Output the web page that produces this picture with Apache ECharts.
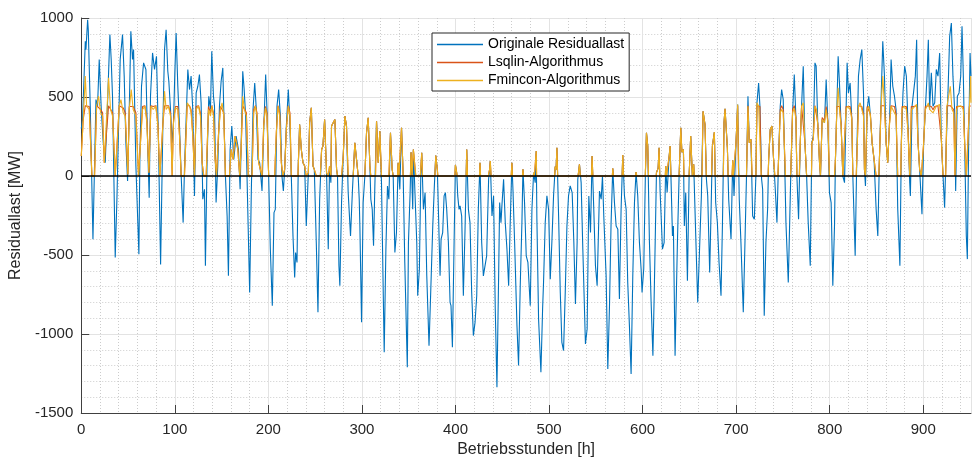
<!DOCTYPE html>
<html>
<head>
<meta charset="utf-8">
<script src="https://cdn.jsdelivr.net/npm/echarts@6/dist/echarts.min.js"></script>
<style>html,body{margin:0;padding:0;background:#fff;}#chart{width:972px;height:463px;}</style>
</head>
<body>
<div id="chart"></div>
<script>
// Data: [Betriebsstunde, MW]
const seriesNames = ['Originale Residuallast', 'Lsqlin-Algorithmus', 'Fmincon-Algorithmus'];
const xTicks = [0, 100, 200, 300, 400, 500, 600, 700, 800, 900];
const yTicks = [-1500, -1000, -500, 0, 500, 1000];

const originalResidualLoad = [
[0,300],[1.4,358],[4.3,853],[5.0,800],[6.8,989],[7.5,926],[9.6,442],[12.5,-400],[15.7,484],[17.4,442],[19.2,737],[21.4,421],[23.5,210],[25.6,84],[28.1,463],[30.6,895],[32.0,737],[33.4,505],[36.3,-516],[38.1,-147],[39.5,210],[41.6,737],[44.1,895],[45.9,632],[47.7,210],[49.5,-32],[51.3,421],[53.0,916],[54.8,737],[55.9,800],[58.4,63],[61.6,-495],[62.7,147],[64.4,568],[66.6,716],[69.1,674],[70.9,210],[72.6,-137],[74.0,505],[76.2,779],[78.3,674],[80.4,758],[82.2,316],[84.8,-560],
[87.2,316],[89.0,800],[90.7,926],[92.5,663],[93.6,600],[95.4,421],[97.1,210],[98.6,337],[100.0,653],[101.4,905],[103.2,568],[105.0,316],[106.8,0],[108.9,-295],[110.3,42],[113.9,674],[115.7,547],[117.4,632],[119.2,421],[121.0,-126],[122.8,526],[124.6,568],[126.3,642],[128.1,463],[129.9,-147],[131.7,-84],[132.7,-568],[134.5,105],[136.3,505],[138.1,421],[139.5,789],[141.3,505],[142.4,442],[144.1,-168],[145.9,63],[147.7,442],[149.5,600],[151.3,684],[152.3,421],[154.1,0],[155.9,-253],[157.3,-632],[159.1,168],[160.9,316],[163.0,105],[165.5,253],[168.0,168],[169.8,-84],[170.8,168],[172.6,663],[174.0,558],
[175.7,379],[180.0,-737],[181.8,-84],[183.6,421],[185.4,589],[187.1,421],[188.9,105],[190.7,84],[193.2,-95],[195.0,295],[197.1,642],[198.5,421],[200.3,0],[202.1,-463],[204.2,-821],[206.0,-232],[207.4,-211],[209.2,442],[211.0,547],[212.8,379],[214.5,0],[216.0,-95],[217.4,42],[219.2,316],[221.3,547],[222.7,379],[224.5,0],[226.3,-379],[228.1,-642],[229.1,-484],[230.6,-547],[232.0,84],[233.4,326],[235.2,168],[237.0,84],[238.8,63],[240.5,-316],[242.7,21],[244.1,337],[245.9,432],[247.7,63],[249.1,42],[251.2,-421],[253.0,-863],[254.8,-147],[256.9,168],[258.3,189],[260.1,358],
[262.2,21],[264.0,-463],[265.4,63],[266.8,-42],[267.5,316],[269.3,337],[271.1,358],[272.9,42],[273.9,0],[275.4,-568],[276.4,-695],[278.2,-168],[280.0,126],[281.8,379],[283.5,316],[285.3,-105],[287.8,-379],[289.9,-84],[292.4,210],[294.2,105],[296.0,0],[297.1,-147],[297.8,-316],[299.6,-926],[301.3,-168],[303.1,0],[304.9,274],[306.7,368],[308.5,63],[309.5,-147],[311.0,-211],[312.4,-442],[313.8,-63],[315.6,347],[317.4,84],[319.1,284],[320.9,-42],[323.8,-1116],[325.6,-463],[327.3,-63],[328.8,-147],[330.5,274],[332.3,42],[333.4,0],[335.2,-484],[336.9,-358],[338.7,84],[340.5,-84],[342.3,305],[344.1,0],[345.8,-547],[348.5,-1210],
[349.7,-421],[351.5,-105],[352.5,150],[354.3,-211],[355.0,168],[356.8,179],[358.6,-421],[359.6,-758],[361.4,-589],[362.9,0],[363.9,147],[365.7,-211],[367.5,-105],[369.3,-632],[371.7,-1074],[373.5,-737],[375.7,-316],[377.4,-63],[378.9,130],[380.6,40],[381.7,-211],[383.5,-632],[384.6,-400],[386.3,-358],[387.8,-126],[389.2,-105],[390.6,-211],[392.4,-421],[394.2,-800],[395.2,-821],[396.7,-1084],[398.5,-421],[399.9,70],[401.3,20],[402.4,-126],[403.8,-211],[404.9,-189],[406.6,-253],[408.4,-758],[410.2,-337],[412.0,168],[413.8,-211],[415.5,-295],[417.3,-737],[419.1,-1010],[420.9,-926],[422.7,-758],[424.4,-211],[426.2,84],[428.0,-421],[429.8,-632],[433.3,-505],[435.4,-20],[436.4,40],[437.2,95],
[439.0,-253],[440.7,-126],[442.5,-842],[444.3,-1337],[446.1,-632],[447.2,-168],[448.6,-295],[449.6,-189],[451.4,-21],[453.2,-295],[455.0,-463],[456.8,-695],[458.5,-295],[460.3,84],[461.4,-84],[463.2,-421],[465.7,-947],[467.4,-1200],[469.2,-695],[471.0,-295],[472.1,42],[473.8,-168],[475.6,-505],[477.4,-547],[479.9,-821],[481.7,-211],[483.5,21],[485.2,-42],[486.3,158],[487.0,-274],[488.8,-905],[491.3,-1242],[493.1,-842],[494.1,-674],[495.9,-295],[497.7,-126],[499.5,-211],[501.3,-653],[503.0,-421],[504.8,-126],[506.6,60],[507.5,40],[508.4,179],[510.2,-253],[512.0,-737],[513.7,-1053],[515.5,-1105],[517.3,-737],[519.1,-316],[520.8,-126],[522.6,-63],
[524.7,-105],[526.5,-421],[528.2,-810],[530.0,-421],[530.7,-21],[532.5,74],[534.3,-42],[536.1,-463],[538.9,-1063],[540.7,-968],[542.5,-126],[544.3,-358],[546.0,126],[547.8,-211],[549.6,-568],[551.4,-695],[553.9,-95],[555.7,-147],[557.1,0],[558.5,-253],[561.0,-632],[562.8,-1221],[564.6,-821],[566.3,-295],[568.1,48],[569.9,-168],[571.7,-316],[573.5,-337],[575.2,-779],[577.0,-211],[578.8,133],[580.6,-126],[582.4,-211],[584.1,-674],[585.9,-947],[587.7,-1253],[589.5,-632],[591.3,-168],[593.0,25],[594.8,-126],[596.6,-421],[598.4,-589],[599.4,-737],[601.2,-589],[603.0,21],[604.1,274],[605.5,190],[607.3,-421],[609.1,-800],[611.0,-1137],
[612.3,-779],[613.3,-463],[614.8,21],[616.6,50],[617.6,179],[618.7,-100],[619.8,-253],[621.2,-463],[623.0,-421],[624.7,63],[626.2,-105],[628.3,120],[629.4,189],[630.5,-50],[631.9,-379],[632.9,-316],[634.7,-1137],[637.2,-421],[639.0,0],[640.8,305],[642.0,150],[643.6,168],[644.6,-316],[646.1,-105],[647.9,-663],[649.7,0],[651.4,253],[653.2,0],[654.6,74],[656.8,-379],[658.9,-800],[661.1,-421],[662.8,-126],[664.6,410],[666.7,326],[668.2,-21],[669.6,-126],[671.7,-611],[673.2,-211],[674.6,189],[676.7,278],[678.1,-168],[679.9,-295],[681.7,-547],[683.8,-758],[685.3,-316],[687.0,337],[688.1,425],[690.6,179],[692.0,-147],[694.5,-400],[696.3,99],[697.7,-126],
[699.8,210],[701.6,453],[703.3,-147],[705.1,-421],[707.6,-863],[709.4,-421],[711.2,42],[712.6,505],[714.0,210],[715.8,232],[717.6,-253],[719.4,-274],[721.1,0],[722.2,463],[724.0,589],[725.4,442],[727.2,-21],[728.3,-84],[730.0,-884],[731.8,-421],[733.6,-211],[734.7,105],[736.4,295],[738.2,316],[740.0,105],[741.8,-84],[743.6,-295],[745.3,105],[747.1,442],[748.6,547],[750.3,484],[751.4,210],[753.2,-295],[755.7,-674],[757.1,-316],[758.5,42],[760.3,400],[762.1,642],[763.9,358],[764.9,0],[766.7,-274],[768.5,210],[769.9,442],[771.7,695],[773.5,210],[775.3,0],[777.0,-295],[779.2,-568],[780.9,210],[782.4,253],[784.2,716],[785.5,695],
[787.3,316],[789.1,84],[790.1,0],[791.9,358],[794.4,337],[796.2,610],[798.0,337],[799.7,-105],[801.5,-168],[803.3,-695],[805.1,-316],[806.1,105],[807.6,421],[809.0,758],[810.4,589],[812.2,316],[814.0,0],[815.8,-42],[817.5,421],[818.6,716],[820.0,526],[821.8,589],[823.6,358],[824.7,0],[827.2,-505],[829.0,147],[830.7,632],[832.5,737],[834.3,800],[836.1,526],[837.1,42],[838.2,-63],[840.0,421],[841.7,505],[843.5,379],[845.3,210],[847.4,105],[849.6,-211],[851.4,-379],[853.1,105],[854.9,484],[856.7,853],[858.5,632],[860.3,210],[862.0,84],[863.8,316],[865.6,737],[867.4,568],[869.2,505],[870.9,421],[872.7,-211],[875.0,-568],
[876.6,210],[878.3,526],[880.1,695],[881.9,632],[883.7,316],[885.5,-42],[886.2,-126],[888.0,442],[889.7,442],[891.5,632],[892.9,863],[894.4,210],[896.1,42],[898.6,-242],[900.4,210],[902.2,421],[904.0,632],[905.4,863],[906.8,421],[908.6,653],[910.4,442],[912.2,463],[913.9,674],[915.7,632],[917.5,779],[919.3,232],[921.1,0],[922.8,-200],[924.6,210],[926.4,526],[928.2,884],[930.0,968],[931.7,632],[933.5,421],[934.6,-95],[936.4,505],[938.2,526],[940.0,632],[941.4,947],[942.8,632],[944.2,210],[946.0,-379],[947.1,-526],[948.5,210],[950.0,779],[951.0,632]
];

const fminconLoad = [
[0,126],[2.1,358],[4.3,632],[5.7,442],[8.5,421],[11.4,0],[14.2,0],[16.4,442],[18.5,505],[20.7,400],[22.8,379],[24.6,84],[26.3,74],[29.2,621],[31.3,421],[33.5,379],[36.3,0],[38.4,0],[40.6,442],[42.4,484],[44.9,400],[47.0,379],[48.8,147],[49.8,10],[51.3,421],[53.4,547],[55.5,421],[58.4,379],[61.2,0],[63.0,0],[65.5,421],[68.0,442],[70.1,337],[72.3,21],[74.4,442],[76.9,421],[79.7,442],[81.9,316],[84.0,0],
[85.4,0],[87.2,316],[89.0,537],[90.7,421],[93.2,442],[95.4,379],[97.1,0],[98.6,337],[100.7,432],[103.2,421],[105.0,253],[106.8,0],[110.3,0],[113.2,463],[115.7,442],[117.4,400],[119.2,253],[121.0,0],[122.8,421],[125.3,442],[127.4,379],[129.2,84],[131.0,0],[133.5,0],[136.0,421],[138.1,379],[139.5,442],[141.3,379],[143.1,105],[144.5,0],[146.6,253],[148.8,421],[150.5,463],[152.3,379],[154.1,0],[158.4,0],[160.2,168],[162.3,105],[164.4,253],[167.3,168],[169.4,0],[170.8,168],[172.6,505],[174.4,421],
[176.5,379],[178.6,0],[182.5,0],[184.3,400],[186.1,442],[187.9,379],[189.6,84],[191.4,84],[193.2,0],[195.0,316],[196.8,432],[198.5,379],[200.3,0],[206.7,0],[208.5,274],[210.3,442],[212.1,379],[213.8,84],[215.6,0],[217.4,42],[219.2,295],[221.3,442],[223.1,379],[224.5,0],[231.6,0],[233.4,326],[235.2,168],[237.0,84],[238.8,63],[240.5,0],[242.7,21],[244.1,337],[245.9,432],[247.7,63],[249.1,42],[251.2,0],[255.5,0],[256.9,168],[258.3,189],[260.1,358],
[262.2,21],[264.0,0],[265.4,63],[266.8,0],[267.5,316],[269.3,337],[271.1,358],[272.9,42],[273.9,0],[278.2,0],[280.0,126],[281.8,379],[283.5,316],[285.3,0],[290.7,0],[292.4,210],[294.2,105],[296.0,0],[303.1,0],[304.9,274],[306.7,368],[308.5,63],[309.5,0],[314.5,0],[315.6,347],[317.4,84],[319.1,284],[320.9,0],[328.8,0],[330.5,274],[332.3,42],[333.4,0],[338.0,0],[338.7,84],[339.5,0],[341.6,0],[342.3,305],[344.1,0],
[351.8,0],[352.5,150],[353.6,0],[354.6,0],[355.0,168],[356.8,179],[357.6,0],[362.4,0],[363.9,147],[364.8,0],[378.0,0],[378.9,130],[380.6,40],[381.2,0],[399.3,0],[399.9,70],[401.3,20],[401.8,0],[411.4,0],[412.0,168],[412.8,0],[425.6,0],[426.2,84],[426.8,0],[435.0,0],[436.4,40],[437.2,95],[438.0,0],
[459.5,0],[460.3,84],[460.9,0],[471.5,0],[472.1,42],[472.7,0],[483.2,0],[483.5,21],[484.3,0],[485.8,0],[486.3,158],[486.7,0],[505.9,0],[506.6,60],[507.5,40],[508.4,179],[509.2,0],
[531.0,0],[532.5,74],[533.4,0],[545.3,0],[546.0,126],[546.8,0],[567.6,0],[568.1,48],[568.8,0],[578.1,0],[578.8,133],[579.6,0],[592.4,0],[593.0,25],[593.8,0],[602.9,0],[604.1,274],[605.5,190],[606.3,0],
[614.5,0],[614.8,21],[616.6,50],[617.6,179],[618.3,0],[624.2,0],[624.7,63],[625.4,0],[627.4,0],[628.3,120],[629.4,189],[630.2,0],[639.0,0],[640.8,305],[642.0,150],[643.6,168],[644.2,0],[649.7,0],[651.4,253],[653.2,0],[654.6,74],[655.2,0],[663.5,0],[664.6,410],[666.7,326],[668.1,0],[673.7,0],[674.6,189],[676.7,278],[677.5,0],[686.3,0],[687.0,337],[688.1,425],[690.6,179],[691.4,0],[695.6,0],[696.3,99],[697.0,0],[699.0,0],
[699.8,210],[701.6,453],[702.6,0],[711.0,0],[712.6,442],[714.0,210],[715.8,232],[717.0,0],[721.1,0],[722.2,463],[724.0,442],[725.4,442],[726.8,0],[734.2,0],[734.7,105],[736.4,295],[738.2,316],[740.0,105],[741.4,0],[744.6,0],[745.3,105],[747.1,400],[748.6,421],[750.3,400],[751.4,210],[752.7,0],[758.0,0],[758.5,42],[760.3,400],[762.1,430],[763.9,358],[764.9,0],[767.5,0],[768.5,210],[769.9,442],[771.7,463],[773.5,210],[775.3,0],[780.5,0],[780.9,210],[782.4,232],[784.2,442],[785.9,421],
[787.3,316],[789.1,84],[790.1,0],[791.9,358],[794.4,337],[796.2,421],[798.0,337],[799.7,0],[805.1,0],[806.1,105],[807.6,421],[809.0,558],[810.4,421],[812.2,316],[814.0,0],[816.1,0],[817.5,421],[819.3,442],[821.8,421],[823.6,358],[824.7,0],[828.3,0],[829.3,168],[830.7,442],[832.5,463],[834.3,421],[836.1,379],[837.1,42],[838.2,0],[840.0,421],[841.7,442],[843.5,379],[845.3,210],[847.4,105],[849.6,0],[852.4,0],[853.1,105],[854.9,442],[856.7,632],[858.5,442],[860.3,210],[862.0,84],[863.8,316],[865.6,442],[867.4,421],[869.2,421],[870.9,379],[872.7,0],
[875.9,0],[877.3,421],[879.4,442],[881.9,421],[883.7,274],[885.5,0],[887.2,421],[889.7,432],[891.5,442],[892.9,453],[894.4,210],[896.1,42],[897.9,0],[900.4,210],[902.2,421],[904.0,442],[905.4,463],[906.8,421],[908.6,421],[910.4,400],[912.2,421],[913.9,442],[915.7,442],[917.5,453],[919.3,232],[921.1,0],[923.9,0],[925.3,442],[927.1,442],[928.9,568],[930.7,421],[932.5,400],[933.9,0],[935.6,421],[937.4,442],[939.2,432],[940.6,442],[942.8,421],[944.2,210],[946.0,0],[947.8,0],[949.2,421],[950.6,632],[951.0,463]
];

const lsqlinLoad = [
[0,126],[2.1,358],[4.3,445],[5.7,445],[8.5,440],[11.4,0],[14.2,0],[16.4,445],[18.5,445],[20.7,420],[22.8,400],[24.6,84],[26.3,74],[29.2,445],[31.3,440],[33.5,400],[36.3,0],[38.4,0],[40.6,445],[42.4,445],[44.9,430],[47.0,400],[48.8,147],[49.8,10],[51.3,440],[53.4,445],[55.5,440],[58.4,400],[61.2,0],[63.0,0],[65.5,440],[68.0,445],[70.1,360],[72.3,21],[74.4,445],[76.9,440],[79.7,445],[81.9,330],[84.0,0],
[85.4,0],[87.2,330],[89.0,445],[90.7,440],[93.2,445],[95.4,400],[97.1,0],[98.6,350],[100.7,440],[103.2,440],[105.0,260],[106.8,0],[110.3,0],[113.2,445],[115.7,445],[117.4,420],[119.2,260],[121.0,0],[122.8,440],[125.3,445],[127.4,400],[129.2,84],[131.0,0],[133.5,0],[136.0,440],[138.1,400],[139.5,445],[141.3,400],[143.1,105],[144.5,0],[146.6,260],[148.8,440],[150.5,445],[152.3,400],[154.1,0],[158.4,0],[160.2,168],[162.3,105],[164.4,253],[167.3,168],[169.4,0],[170.8,168],[172.6,445],[174.4,440],
[176.5,400],[178.6,0],[182.5,0],[184.3,420],[186.1,445],[187.9,400],[189.6,84],[191.4,84],[193.2,0],[195.0,330],[196.8,440],[198.5,400],[200.3,0],[206.7,0],[208.5,280],[210.3,445],[212.1,400],[213.8,84],[215.6,0],[217.4,42],[219.2,300],[221.3,445],[223.1,400],[224.5,0],[231.6,0],[233.4,326],[235.2,168],[237.0,84],[238.8,63],[240.5,0],[242.7,21],[244.1,337],[245.9,432],[247.7,63],[249.1,42],[251.2,0],[255.5,0],[256.9,168],[258.3,189],[260.1,358],
[262.2,21],[264.0,0],[265.4,63],[266.8,0],[267.5,316],[269.3,337],[271.1,358],[272.9,42],[273.9,0],[278.2,0],[280.0,126],[281.8,379],[283.5,316],[285.3,0],[290.7,0],[292.4,210],[294.2,105],[296.0,0],[303.1,0],[304.9,274],[306.7,368],[308.5,63],[309.5,0],[314.5,0],[315.6,347],[317.4,84],[319.1,284],[320.9,0],[328.8,0],[330.5,274],[332.3,42],[333.4,0],[338.0,0],[338.7,84],[339.5,0],[341.6,0],[342.3,305],[344.1,0],
[351.8,0],[352.5,150],[353.6,0],[354.6,0],[355.0,168],[356.8,179],[357.6,0],[362.4,0],[363.9,147],[364.8,0],[378.0,0],[378.9,130],[380.6,40],[381.2,0],[399.3,0],[399.9,70],[401.3,20],[401.8,0],[411.4,0],[412.0,168],[412.8,0],[425.6,0],[426.2,84],[426.8,0],[435.0,0],[436.4,40],[437.2,95],[438.0,0],
[459.5,0],[460.3,84],[460.9,0],[471.5,0],[472.1,42],[472.7,0],[483.2,0],[483.5,21],[484.3,0],[485.8,0],[486.3,158],[486.7,0],[505.9,0],[506.6,60],[507.5,40],[508.4,179],[509.2,0],
[531.0,0],[532.5,74],[533.4,0],[545.3,0],[546.0,126],[546.8,0],[567.6,0],[568.1,48],[568.8,0],[578.1,0],[578.8,133],[579.6,0],[592.4,0],[593.0,25],[593.8,0],[602.9,0],[604.1,274],[605.5,190],[606.3,0],
[614.5,0],[614.8,21],[616.6,50],[617.6,179],[618.3,0],[624.2,0],[624.7,63],[625.4,0],[627.4,0],[628.3,120],[629.4,189],[630.2,0],[639.0,0],[640.8,305],[642.0,150],[643.6,168],[644.2,0],[649.7,0],[651.4,253],[653.2,0],[654.6,74],[655.2,0],[663.5,0],[664.6,410],[666.7,326],[668.1,0],[673.7,0],[674.6,189],[676.7,278],[677.5,0],[686.3,0],[687.0,337],[688.1,425],[690.6,179],[691.4,0],[695.6,0],[696.3,99],[697.0,0],[699.0,0],
[699.8,210],[701.6,445],[702.6,0],[711.0,0],[712.6,445],[714.0,210],[715.8,232],[717.0,0],[721.1,0],[722.2,445],[724.0,445],[725.4,440],[726.8,0],[734.2,0],[734.7,105],[736.4,295],[738.2,316],[740.0,105],[741.4,0],[744.6,0],[745.3,105],[747.1,420],[748.6,445],[750.3,420],[751.4,210],[752.7,0],[758.0,0],[758.5,42],[760.3,420],[762.1,445],[763.9,370],[764.9,0],[767.5,0],[768.5,210],[769.9,445],[771.7,445],[773.5,210],[775.3,0],[780.5,0],[780.9,210],[782.4,232],[784.2,445],[785.9,440],
[787.3,330],[789.1,84],[790.1,0],[791.9,370],[794.4,350],[796.2,440],[798.0,350],[799.7,0],[805.1,0],[806.1,105],[807.6,440],[809.0,445],[810.4,440],[812.2,330],[814.0,0],[816.1,0],[817.5,440],[819.3,445],[821.8,440],[823.6,370],[824.7,0],[828.3,0],[829.3,168],[830.7,445],[832.5,445],[834.3,440],[836.1,390],[837.1,42],[838.2,0],[840.0,440],[841.7,445],[843.5,390],[845.3,210],[847.4,105],[849.6,0],[852.4,0],[853.1,105],[854.9,445],[856.7,445],[858.5,445],[860.3,210],[862.0,84],[863.8,330],[865.6,445],[867.4,440],[869.2,440],[870.9,390],[872.7,0],
[875.9,0],[877.3,440],[879.4,445],[881.9,440],[883.7,280],[885.5,0],[887.2,440],[889.7,440],[891.5,445],[892.9,445],[894.4,210],[896.1,42],[897.9,0],[900.4,210],[902.2,440],[904.0,445],[905.4,445],[906.8,440],[908.6,440],[910.4,420],[912.2,440],[913.9,445],[915.7,445],[917.5,445],[919.3,232],[921.1,0],[923.9,0],[925.3,445],[927.1,445],[928.9,445],[930.7,440],[932.5,420],[933.9,0],[935.6,440],[937.4,445],[939.2,440],[940.6,445],[942.8,440],[944.2,210],[946.0,0],[947.8,0],[949.2,440],[950.6,445],[951.0,445]
];

const colors = ['#0072BD', '#D95319', '#EDB120'];
const font = 'Liberation Sans, Arial, Helvetica, sans-serif';

const chart = echarts.init(document.getElementById('chart'), null, {renderer: 'canvas'});
chart.setOption({
  animation: false,
  backgroundColor: '#ffffff',
  textStyle: {fontFamily: font},
  grid: {left: 80, top: 18, right: 1, bottom: 49, containLabel: false},
  legend: {
    orient: 'vertical',
    left: 432, top: 33,
    padding: [4, 5, 3, 5],
    itemGap: 3,
    itemWidth: 46,
    itemHeight: 1.5,
    icon: 'rect',
    borderColor: '#262626',
    borderWidth: 1,
    backgroundColor: '#ffffff',
    textStyle: {fontFamily: font, fontSize: 14, color: '#000', lineHeight: 15},
    data: seriesNames
  },
  xAxis: {
    type: 'value',
    min: 0, max: 951, interval: 100,
    name: 'Betriebsstunden [h]',
    nameLocation: 'middle', nameGap: 29,
    nameTextStyle: {fontFamily: font, fontSize: 16, color: '#262626'},
    axisLine: {show: true, onZero: false, lineStyle: {color: '#404040', width: 1}},
    axisTick: {show: true, inside: true, length: 8, lineStyle: {color: '#404040'}},
    axisLabel: {fontFamily: font, fontSize: 15, color: '#262626', margin: 9, showMaxLabel: false,
      formatter: v => xTicks.includes(v) ? String(v) : ''},
    splitLine: {show: true, lineStyle: {color: '#e3e3e3', width: 1}},
    minorTick: {show: false, splitNumber: 5},
    minorSplitLine: {show: true, lineStyle: {color: '#cccccc', width: 1, type: [1, 2]}}
  },
  yAxis: {
    type: 'value',
    min: -1500, max: 1000, interval: 500,
    name: 'Residuallast [MW]',
    nameLocation: 'middle', nameGap: 52,
    nameTextStyle: {fontFamily: font, fontSize: 16, color: '#262626'},
    axisLine: {show: true, onZero: false, lineStyle: {color: '#404040', width: 1}},
    axisTick: {show: true, inside: true, length: 8, lineStyle: {color: '#404040'}},
    axisLabel: {fontFamily: font, fontSize: 15, color: '#262626', margin: 8,
      formatter: v => yTicks.includes(v) ? String(v) : ''},
    splitLine: {show: true, lineStyle: {color: '#e3e3e3', width: 1}},
    minorTick: {show: false, splitNumber: 5},
    minorSplitLine: {show: true, lineStyle: {color: '#cccccc', width: 1, type: [1, 2]}}
  },
  series: [
    {name: seriesNames[0], type: 'line', data: originalResidualLoad, showSymbol: false, symbol: 'none',
     lineStyle: {color: colors[0], width: 1.1}, itemStyle: {color: colors[0]}, z: 2},
    {name: seriesNames[1], type: 'line', data: lsqlinLoad, showSymbol: false, symbol: 'none',
     lineStyle: {color: colors[1], width: 1.1}, itemStyle: {color: colors[1]}, z: 3},
    {name: seriesNames[2], type: 'line', data: fminconLoad, showSymbol: false, symbol: 'none',
     lineStyle: {color: colors[2], width: 1.1}, itemStyle: {color: colors[2]}, z: 4,
     markLine: {silent: true, symbol: ['none', 'none'], label: {show: false},
       lineStyle: {color: '#000000', width: 1.5, type: 'solid'}, data: [{yAxis: 0}]}}
  ]
});
</script>
</body>
</html>
